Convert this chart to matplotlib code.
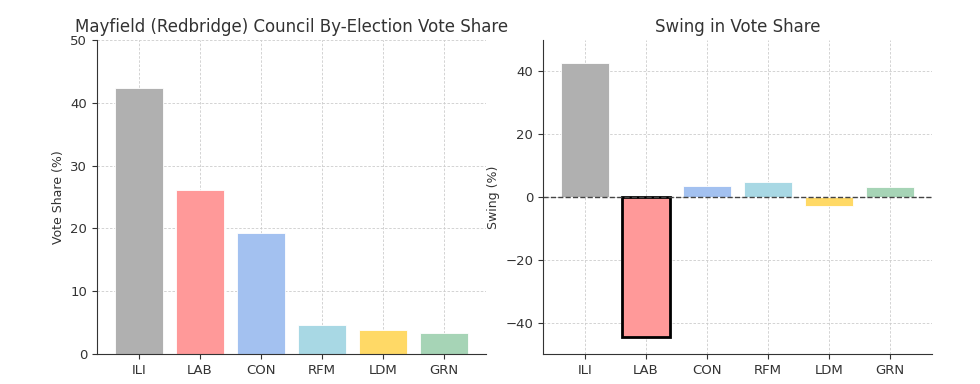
import matplotlib
matplotlib.use("Agg")
import matplotlib.pyplot as plt

parties = ["ILI", "LAB", "CON", "RFM", "LDM", "GRN"]
vote_share = [42.4, 26.1, 19.3, 4.7, 3.8, 3.3]
swing = [42.5, -44.6, 3.6, 4.7, -2.9, 3.3]
colors = ["#b0b0b0", "#ff9999", "#a3c1f0", "#a8d8e4", "#ffd966", "#a6d4b6"]

plt.rcParams['font.family'] = ['DejaVu Sans']
fig = plt.figure(figsize=(9.8, 3.84), dpi=100)
ax1 = fig.add_axes([0.099, 0.078, 0.397, 0.818])
ax2 = fig.add_axes([0.554, 0.078, 0.397, 0.818])

text_color = "#333333"
for ax in (ax1, ax2):
    ax.grid(True, linestyle=(0, (3, 2)), color='#cccccc', linewidth=0.6)
    ax.set_axisbelow(True)
    ax.spines['top'].set_visible(False)
    ax.spines['right'].set_visible(False)
    ax.spines['left'].set_color('#333333')
    ax.spines['bottom'].set_color('#333333')
    ax.tick_params(labelsize=9.5, colors=text_color)

ax1.bar(parties, vote_share, color=colors, width=0.8, edgecolor='white', linewidth=0.6)
ax1.set_ylim(0, 50)
ax1.set_ylabel("Vote Share (%)", fontsize=9, color=text_color)
ax1.set_title("Mayfield (Redbridge) Council By-Election Vote Share", fontsize=12, color=text_color)

bars = ax2.bar(parties, swing, color=colors, width=0.8, edgecolor='white', linewidth=0.6)
bars[1].set_edgecolor('black')
bars[1].set_linewidth(2)
ax2.axhline(0, color='#444444', linestyle='--', linewidth=1)
ax2.set_ylim(-50, 50)
ax2.set_yticks([-40, -20, 0, 20, 40])
ax2.set_ylabel("Swing (%)", fontsize=9, color=text_color)
ax2.set_title("Swing in Vote Share", fontsize=12, color=text_color)

fig.savefig("out.png", dpi=100)
